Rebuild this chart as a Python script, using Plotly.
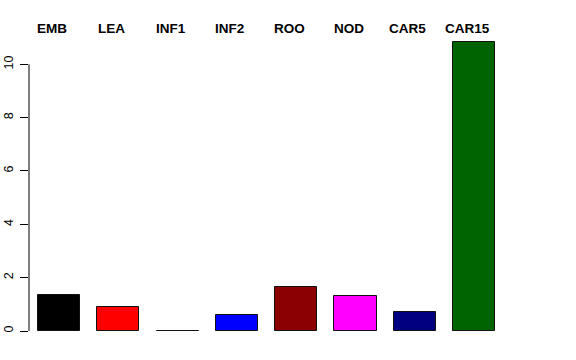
import plotly.graph_objects as go

categories = ["EMB", "LEA", "INF1", "INF2", "ROO", "NOD", "CAR5", "CAR15"]
values = [1.36, 0.90, 0.005, 0.61, 1.64, 1.32, 0.70, 10.82]
colors = ["#000000", "#FF0000", "#00CD00", "#0000FF", "#8B0000", "#FF00FF", "#000080", "#006400"]
y_ticks = [0, 2, 4, 6, 8, 10]

positions = list(range(len(categories)))

W, H = 576, 360
L, R, T, B = 29, 66, 40, 18
ppx = 59.3
ppy = 26.67
x0 = -(59 - L) / ppx
x1 = x0 + (W - L - R) / ppx
y0 = -((H - B) - 331) / ppy
y1 = y0 + (H - T - B) / ppy

fig = go.Figure()
fig.add_trace(go.Bar(
    x=positions, y=values, width=0.71,
    marker=dict(color=colors, line=dict(color="#111111", width=1)),
    showlegend=False, hoverinfo="skip",
))

fig.add_shape(type="line", xref="paper", yref="y", x0=0, x1=0,
              y0=min(y_ticks), y1=max(y_ticks), line=dict(color="#000000", width=1))

for p, c in zip(positions, categories):
    fig.add_annotation(x=p, xref="x", y=1 + 11 / (H - T - B), yref="paper",
                       text=f"<b>{c}</b>", showarrow=False, xshift=-7,
                       xanchor="center", yanchor="middle",
                       font=dict(size=13.5, color="#000000"))

fig.update_layout(
    template="none",
    width=W, height=H,
    margin=dict(l=L, r=R, t=T, b=B, pad=0),
    paper_bgcolor="white", plot_bgcolor="white",
    font=dict(family="Liberation Sans, Arial, sans-serif", color="#000000"),
    xaxis=dict(range=[x0, x1], showticklabels=False, showgrid=False, zeroline=False,
               showline=False, ticks="", automargin=False),
    yaxis=dict(range=[y0, y1], tickmode="array", tickvals=y_ticks,
               ticktext=[str(v) for v in y_ticks], tickangle=-90,
               ticks="outside", ticklen=8, tickcolor="#000000", tickwidth=1,
               ticklabelstandoff=2, automargin=False,
               tickfont=dict(size=12.5), showgrid=False, zeroline=False, showline=False),
    bargap=0,
)

fig.write_html("out.html")
